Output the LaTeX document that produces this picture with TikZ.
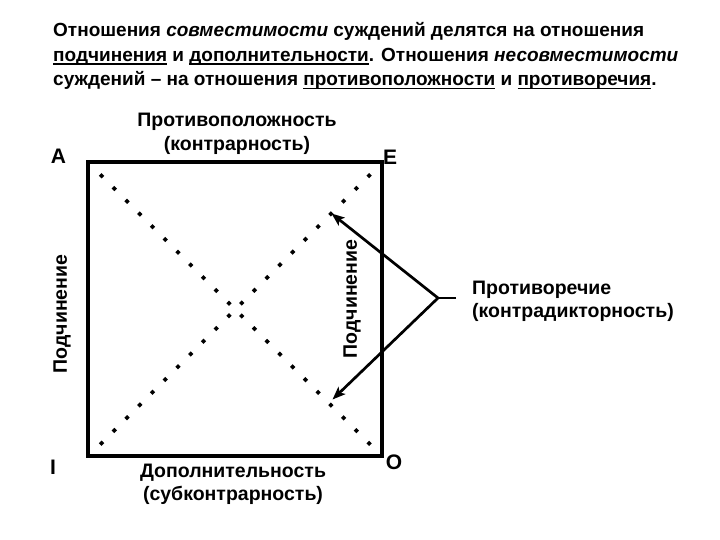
\documentclass[tikz,border=0pt]{standalone}
\usepackage{fontspec}
\setmainfont{Liberation Sans}
\usetikzlibrary{arrows.meta,shapes.geometric}
\newcommand\ulx[1]{\leavevmode\setbox0=\hbox{#1}\rlap{\rule[-3.4pt]{\wd0}{1.6pt}}\copy0\relax}
\tikzset{
  ttl/.style={anchor=base west, inner sep=0pt, font=\fontsize{19}{24}\selectfont\bfseries},
  lbl/.style={inner sep=0pt, align=center, font=\fontsize{19.5}{23.5}\selectfont\bfseries},
  corner/.style={inner sep=0pt, font=\fontsize{21}{24}\selectfont\bfseries},
  dotd/.style={diamond, fill=black, draw=none, inner sep=0pt, minimum size=5.5pt},
  arr/.style={line width=2.7pt, -{Stealth[length=13pt,width=10pt,inset=3pt]}},
  sqbox/.style={draw=black, line width=4pt, minimum width=294pt, minimum height=294pt, inner sep=0pt}
}
\begin{document}
\begin{tikzpicture}[x=1pt,y=-1pt]
\useasboundingbox[fill=white] (0,0) rectangle (720,540);
% title
\node[ttl] (t1) at (53,37) {Отношения \textit{совместимости} суждений делятся на отношения};
\node[ttl] (t2) at (53,61.5) {\ulx{подчинения} и \ulx{дополнительности}. Отношения \textit{несовместимости}};
\node[ttl] (t3) at (53,86) {суждений -- на отношения \ulx{противоположности} и \ulx{противоречия}.};
% square
\node[sqbox] (sq) at (235,309) {};
% dotted diagonals
\foreach \i in {0,...,21} {
  \node[dotd] (d\i) at ({101.6+12.74*\i},{175.8+12.74*\i}) {};
  \node[dotd] (e\i) at ({101.6+12.74*\i},{443.2-12.74*\i}) {};
}
% corner letters
\node[corner] (A) at (58.5,156) {A};
\node[corner] (E) at (390,157) {E};
\node[corner] (I) at (53,467) {I};
\node[corner] (O) at (394,462) {O};
% side labels
\node[lbl] (top) at (237,134) {Противоположность\\(контрарность)};
\node[lbl] (bot) at (233,484.5) {Дополнительность\\(субконтрарность)};
\node[lbl, rotate=90] (left) at (62,314) {Подчинение};
\node[lbl, rotate=90] (right) at (352,299) {Подчинение};
\node[lbl, anchor=west, align=left] (contr) at (472,301.5) {Противоречие\\(контрадикторность)};
% arrows
\coordinate (J) at (438,298);
\coordinate (Jend) at (456,298);
\coordinate (up) at (331.5,213.5);
\coordinate (dn) at (332.5,399.5);
\draw[line width=2.7pt] (Jend) -- (J);
\draw[arr] (J) -- (up);
\draw[arr] (J) -- (dn);
\end{tikzpicture}
\end{document}
